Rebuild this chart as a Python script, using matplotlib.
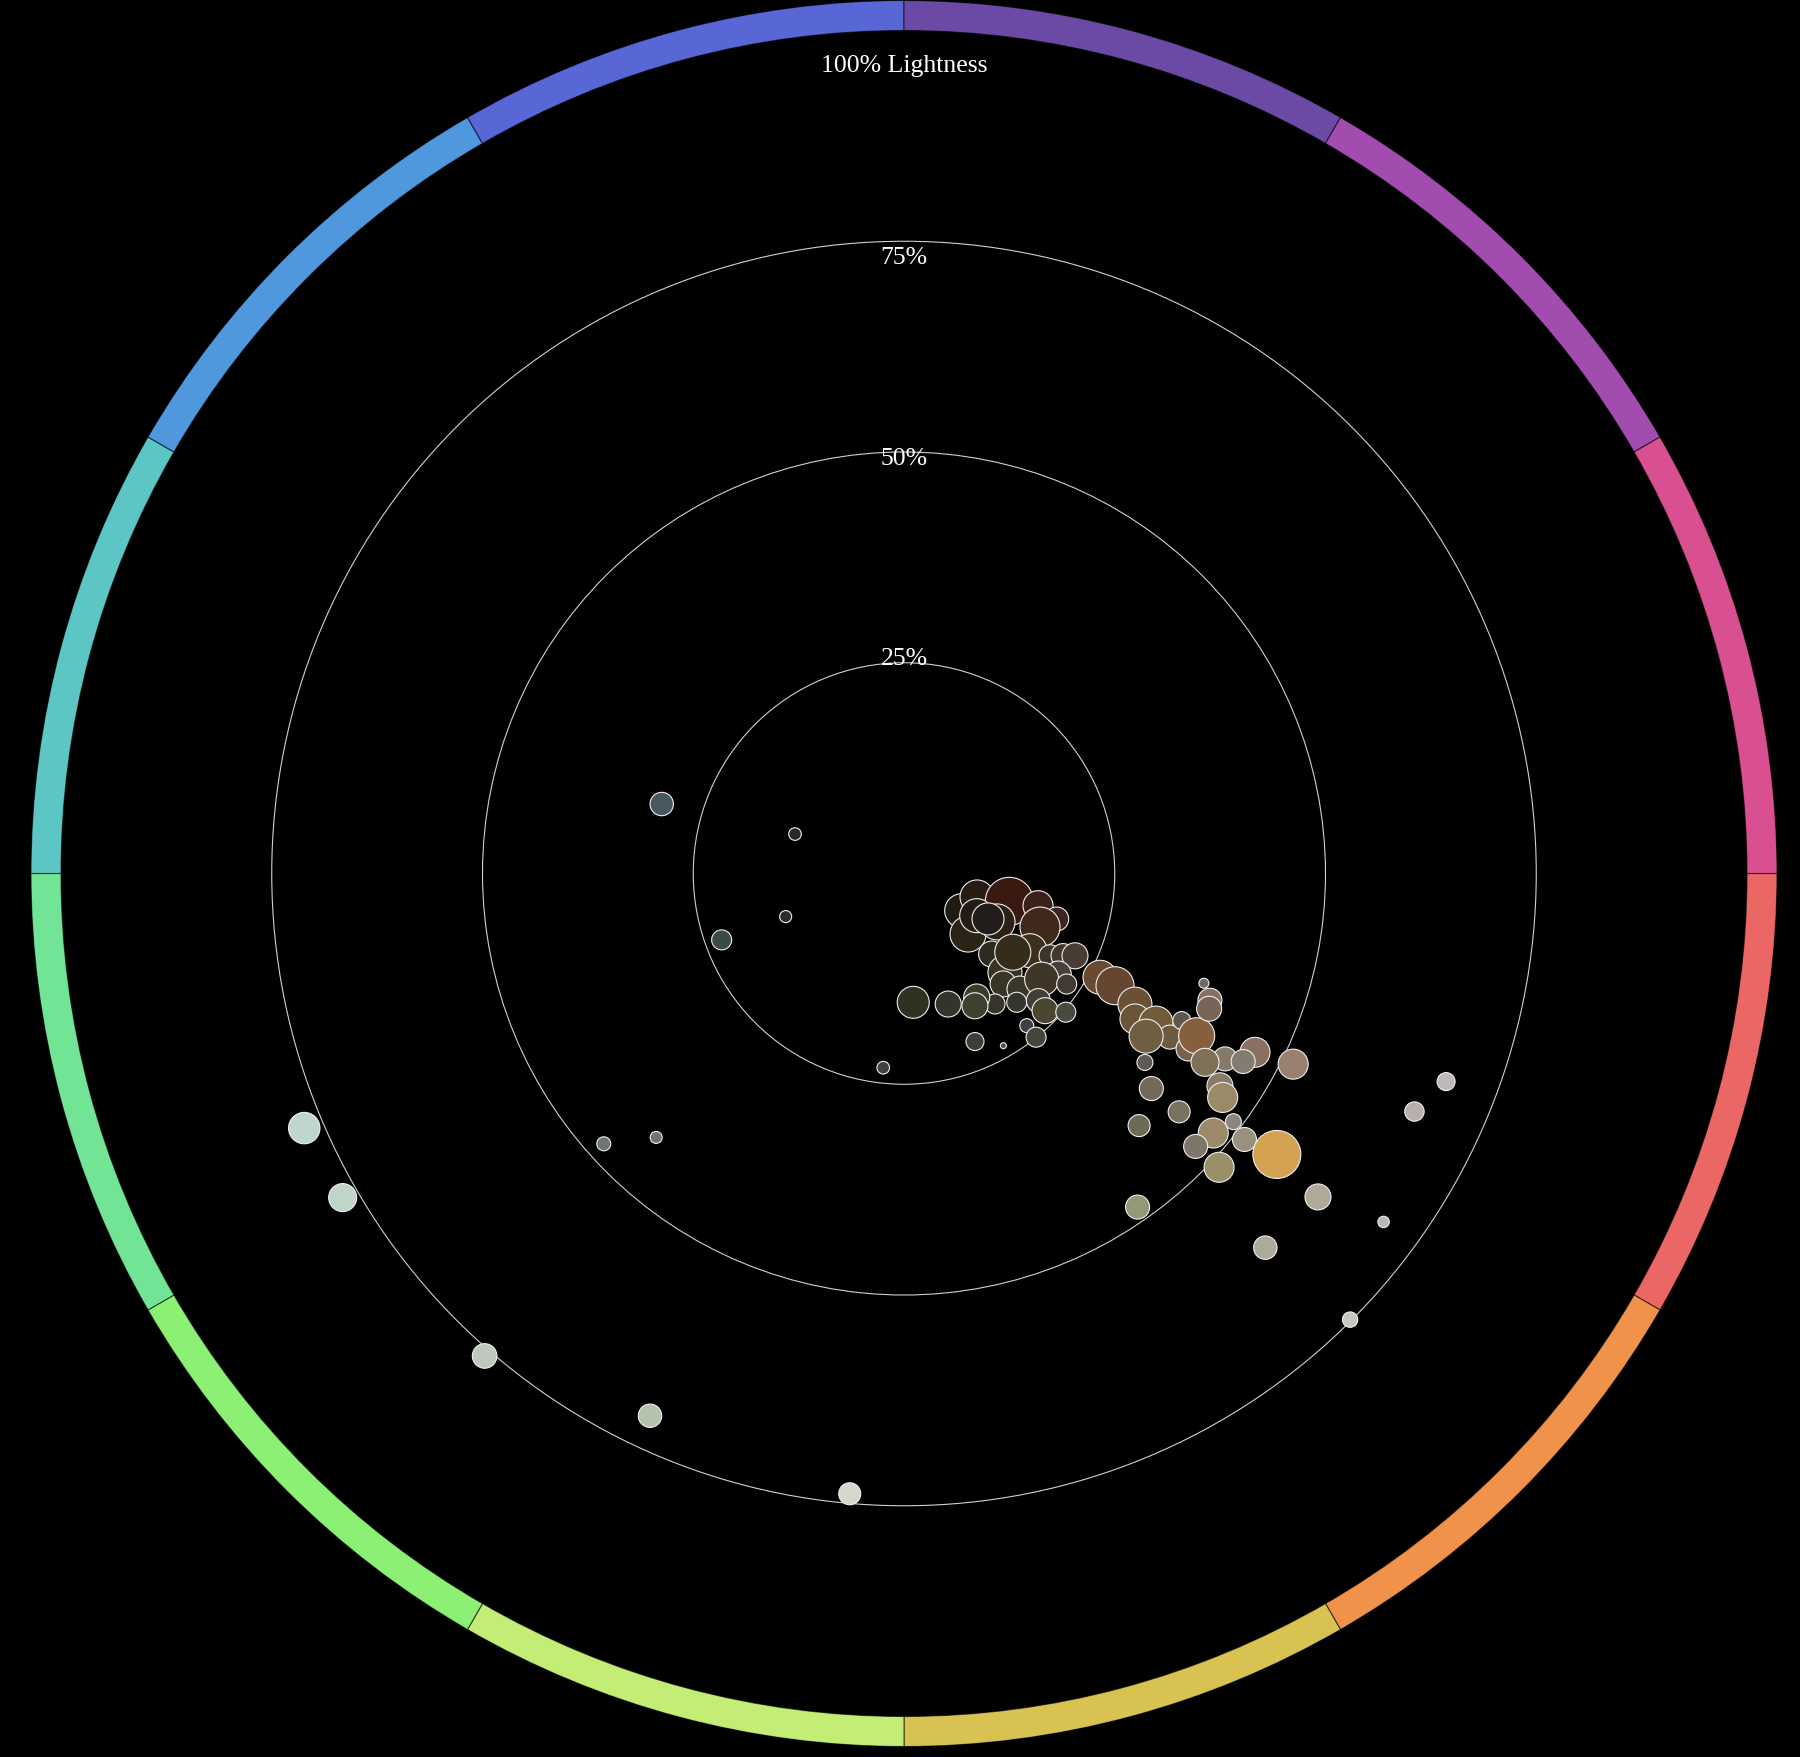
import numpy as np
import matplotlib.pyplot as plt
from matplotlib.patches import Circle

# hue wheel: one segment per 30 degrees of hue
seg_start = [0, 30, 60, 90, 120, 150, 180, 210, 240, 270, 300, 330]
seg_colors = ['#ea6766', '#f0924a', '#d8c252', '#c3ed74', '#8cf074', '#72e495',
              '#5cc6c4', '#4f98de', '#5866d6', '#6a4aa5', '#a24cb0', '#d8508f']

ring_levels = [25, 50, 75]
label_text = ['25%', '50%', '75%', '100% Lightness']
label_pos = [24.9, 48.6, 72.4, 95.2]

# one entry per colour: hue (deg), lightness (%), bubble size, colour
hue = [32.8, 17.8, 43.4, 14.8, 13.5, 16.6, 21.5, 27.5, 30.1, 28.4,
       42.6, 31.5, 29.4, 27.3, 25.7, 44.4, 35.9, 48.1, 44.9, 48.8,
       33.1, 37.5, 34.2, 43.4, 44.2, 40.6, 55.1, 59.5, 61.8, 71.3,
       85.9, 51.1, 51.1, 67.1, 60.0, 96.1,
       27.9, 28.0, 29.5, 32.2, 30.7, 31.6, 27.9, 33.9, 31.7, 29.0,
       20.1, 22.5, 23.9, 27.0, 30.0, 29.0, 32.1, 26.1, 38.1, 41.0,
       33.9, 35.1, 40.9, 47.0, 37.0, 40.0, 43.1, 38.0, 43.0, 37.0,
       38.0, 55.0, 46.0, 21.0, 25.0, 36.0, 45.0,
       196.0, 199.9, 160.0, 160.0, 157.0, 150.0, 131.0, 115.1, 138.0, 133.2, 95.0]
lightness = [8.14, 9.10, 10.45, 12.92, 16.35, 18.90, 17.34, 12.44, 9.97, 11.33,
             14.12, 17.53, 19.88, 21.23, 22.51, 16.76, 15.93, 17.60, 19.42, 20.30,
             21.84, 20.58, 23.33, 21.94, 23.34, 25.28, 18.87, 17.00, 17.80, 16.35,
             15.32, 23.19, 24.95, 21.64, 23.58, 23.17,
             26.31, 28.35, 31.47, 32.38, 34.76, 37.04, 37.28, 34.60, 39.60, 39.69,
             37.88, 39.28, 39.59, 46.73, 43.98, 46.00, 42.15, 51.41, 36.32, 38.88,
             45.15, 46.20, 43.18, 40.89, 48.92, 47.89, 47.38, 51.25, 51.10, 55.38,
             62.32, 48.31, 61.70, 68.88, 66.81, 70.32, 74.84,
             29.90, 13.75, 14.94, 23.02, 77.29, 76.89, 75.83, 71.03, 47.92, 42.95, 73.86]
count = [17, 17, 18, 24, 15, 12, 20, 18, 17, 16,
         13, 17, 11, 12, 13, 17, 18, 13, 13, 10,
         13, 17, 10, 12, 13, 10, 10, 13, 13, 13,
         16, 7, 10, 9, 3, 6.3,
         17, 19, 17, 15, 17, 12, 9, 17, 12, 18,
         5, 12, 12.5, 15, 12, 12, 14, 15, 8, 12,
         13, 15, 11, 11, 8, 15, 12, 12, 15, 24,
         13, 12, 11.7, 9, 9.7, 5.7, 7.7,
         11.7, 6.3, 6, 10, 15.7, 14, 12.3, 11.7, 7, 6, 11]
colors = ['#201a12', '#261c14', '#2a2416', '#3a1a10', '#3a221a', '#3b2620', '#40291b', '#2b1f16', '#231b16', '#221d1b',
          '#2e2a20', '#3e2e1c', '#3c3428', '#44382e', '#4a3c32', '#3a3220', '#362c1c', '#383426', '#3a3628', '#36352c',
          '#48403a', '#3f3628', '#403a32', '#403e36', '#4a4630', '#4a4a40', '#35352a', '#3a3c2c', '#3e4030', '#33352a',
          '#2d3320', '#404040', '#46453a', '#3e3e36', '#505050', '#404040',
          '#6a4a30', '#654630', '#6a5035', '#6a5535', '#735a3a', '#6e5a40', '#60584e', '#6e5e42', '#7a6048', '#86603e',
          '#706a65', '#847060', '#786558', '#8a7060', '#857a6a', '#847c6e', '#7f7058', '#9a8070', '#5e5a55', '#736a58',
          '#8a7a66', '#9a8a68', '#7a7260', '#6e6a58', '#8a8580', '#9a8a68', '#7e7668', '#9a9080', '#9a9068', '#d4a352',
          '#b0a898', '#959878', '#aeaa98', '#c0b8b8', '#b8b0ae', '#b8b8b8', '#c8c8c0',
          '#485860', '#28292b', '#2a2b2c', '#3a4a45', '#bfd6cc', '#c0d4c8', '#bccabc', '#b4c4ac', '#6e7470', '#707570', '#d4d8cc']

fig = plt.figure(figsize=(18, 17.58), dpi=100, facecolor='black')
ax = fig.add_axes([0.017222, 0.005973, 0.97, 0.993174], projection='polar')
ax.set_facecolor('black')
ax.set_theta_zero_location('E')
ax.set_theta_direction(-1)
rmax = 873 / 843 * 100
ax.set_rlim(0, rmax)
ax.grid(False)
ax.set_xticks([])
ax.set_yticks([])
ax.spines['polar'].set_visible(False)

# colour ring
ax.bar(np.deg2rad(np.array(seg_start) + 15), rmax - 100, width=np.deg2rad(30),
       bottom=100, color=seg_colors, edgecolor=(0, 0, 0, 0.6), linewidth=0.8)

# lightness rings
for lv in ring_levels:
    ax.add_patch(Circle((0.5, 0.5), 0.5 * lv / rmax, transform=ax.transAxes,
                        fill=False, edgecolor='#d0d0d0', lw=0.8, zorder=1))

for txt, pos in zip(label_text, label_pos):
    ax.text(np.deg2rad(270), pos, txt, color='white', ha='center', va='baseline',
            fontsize=18.5, family='Liberation Serif', zorder=5)

sizes = (1.44 * np.array(count)) ** 2
ax.scatter(np.deg2rad(hue), lightness, s=sizes, c=colors, edgecolors='#eeeeee',
           linewidths=0.8, zorder=3)

fig.savefig('out.png', dpi=100, facecolor='black')
